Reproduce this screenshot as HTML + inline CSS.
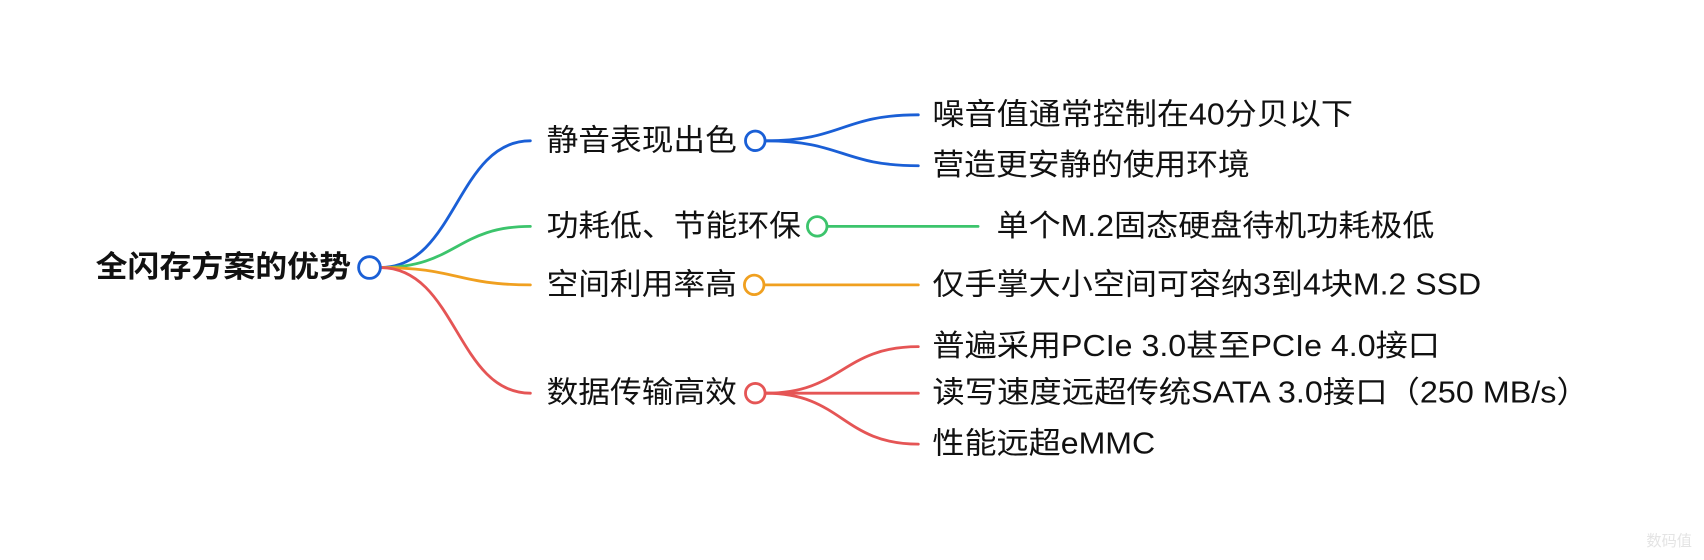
<!DOCTYPE html>
<html><head><meta charset="utf-8"><style>
html,body{margin:0;padding:0;background:#fff;}
svg{display:block;}
text{font-family:"Liberation Sans","Noto Sans CJK SC",sans-serif;font-size:28px;fill:#111;dominant-baseline:central;}
</style></head><body>
<svg width="1704" height="560" viewBox="0 0 1568 517" preserveAspectRatio="none" xmlns="http://www.w3.org/2000/svg">
<g fill="none" stroke-width="2.6" stroke-linecap="round">
<path d="M350 247 C420 247 420 130 488 130" stroke="#1a5fd6"/>
<path d="M350 247 C420 247 420 209 488 209" stroke="#3cc46c"/>
<path d="M350 247 C420 247 420 263 488 263" stroke="#f0a020"/>
<path d="M350 247 C420 247 420 363 488 363" stroke="#e55555"/>
<path d="M705 130 C775 130 775 106 845 106" stroke="#1a5fd6"/>
<path d="M705 130 C775 130 775 153 845 153" stroke="#1a5fd6"/>
<path d="M762 209 L900 209" stroke="#3cc46c"/>
<path d="M704 263 L845 263" stroke="#f0a020"/>
<path d="M705 363 C775 363 775 320 845 320" stroke="#e55555"/>
<path d="M705 363 L845 363" stroke="#e55555"/>
<path d="M705 363 C775 363 775 410 845 410" stroke="#e55555"/>
<circle cx="340" cy="247" r="10" stroke="#1a5fd6" fill="#fff"/>
<circle cx="695" cy="130" r="9" stroke="#1a5fd6" fill="#fff"/>
<circle cx="752" cy="209" r="9" stroke="#3cc46c" fill="#fff"/>
<circle cx="694" cy="263" r="9" stroke="#f0a020" fill="#fff"/>
<circle cx="695" cy="363" r="9" stroke="#e55555" fill="#fff"/>
</g>
<g lengthAdjust="spacingAndGlyphs">
<text x="88" y="247" style="font-weight:bold" textLength="235" lengthAdjust="spacingAndGlyphs">全闪存方案的优势</text>
<text x="503" y="130" textLength="175" lengthAdjust="spacingAndGlyphs">静音表现出色</text>
<text x="503" y="209" textLength="234" lengthAdjust="spacingAndGlyphs">功耗低、节能环保</text>
<text x="503" y="263" textLength="175" lengthAdjust="spacingAndGlyphs">空间利用率高</text>
<text x="503" y="363" textLength="175" lengthAdjust="spacingAndGlyphs">数据传输高效</text>
<text x="858" y="106" textLength="387" lengthAdjust="spacingAndGlyphs">噪音值通常控制在40分贝以下</text>
<text x="858" y="153" textLength="292" lengthAdjust="spacingAndGlyphs">营造更安静的使用环境</text>
<text x="917" y="209" textLength="403" lengthAdjust="spacingAndGlyphs">单个M.2固态硬盘待机功耗极低</text>
<text x="858" y="263" textLength="505" lengthAdjust="spacingAndGlyphs">仅手掌大小空间可容纳3到4块M.2 SSD</text>
<text x="858" y="320" textLength="467" lengthAdjust="spacingAndGlyphs">普遍采用PCIe 3.0甚至PCIe 4.0接口</text>
<text x="858" y="363" textLength="604" lengthAdjust="spacingAndGlyphs">读写速度远超传统SATA 3.0接口（250 MB/s）</text>
<text x="858" y="410" textLength="205" lengthAdjust="spacingAndGlyphs">性能远超eMMC</text>
</g>
<text x="1515" y="500" style="font-size:14px;fill:#e4e4e4">数码值</text>
</svg>
</body></html>
